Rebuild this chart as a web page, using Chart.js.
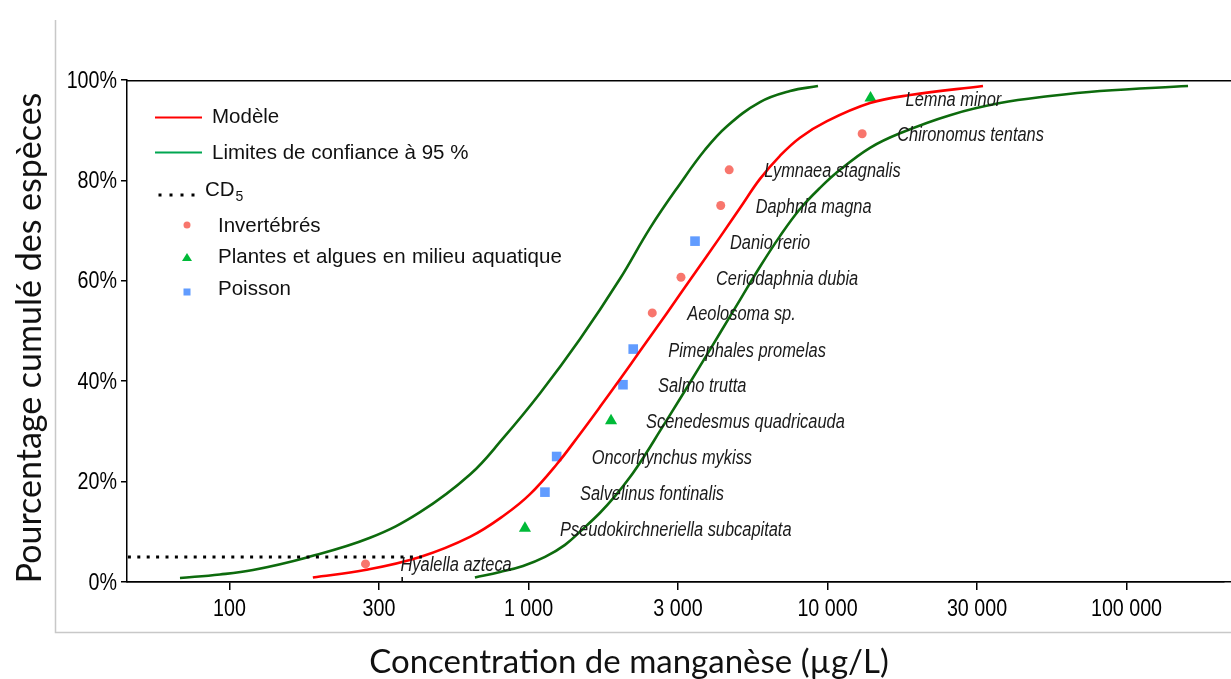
<!DOCTYPE html>
<html><head><meta charset="utf-8">
<script src="https://cdn.jsdelivr.net/npm/chart.js@4.4.1/dist/chart.umd.min.js"></script>
<style>html,body{margin:0;padding:0;background:#fff;overflow:hidden}#wrap{width:1231px;height:679px;position:relative;overflow:hidden}</style>
</head><body><div id="wrap"><canvas id="c" width="1231" height="679"></canvas></div>
<script>
// ---- data ----
const species = ["Hyalella azteca","Pseudokirchneriella subcapitata","Salvelinus fontinalis","Oncorhynchus mykiss","Scenedesmus quadricauda","Salmo trutta","Pimephales promelas","Aeolosoma sp.","Ceriodaphnia dubia","Danio rerio","Daphnia magna","Lymnaea stagnalis","Chironomus tentans","Lemna minor"];
const speciesConc = [285, 973, 1135, 1242, 1888, 2070, 2240, 2594, 3236, 3605, 4394, 4690, 13060, 13930];
const speciesPct = [3.6, 10.7, 17.9, 25.0, 32.1, 39.3, 46.4, 53.6, 60.7, 67.9, 75.0, 82.1, 89.3, 96.4];
const speciesGroup = ["inv","plant","fish","fish","plant","fish","fish","inv","inv","fish","inv","inv","inv","plant"];

const modelConc = [190, 284, 434, 637, 834, 1012, 1245, 1487, 1735, 2023, 2360, 2906, 3549, 4371, 5098, 5946, 6935, 8090, 9961, 13870, 18880, 33120];
const modelPct  = [0.9, 2.4, 5.0, 9.0, 13.4, 17.5, 23.5, 29.5, 34.9, 40.4, 46.0, 53.6, 61.0, 68.7, 74.5, 80.3, 84.9, 88.5, 91.8, 95.4, 97.0, 98.8];

const lowerConc = [68.3, 92.9, 119.8, 178.9, 295.1, 433.7, 637.4, 821.4, 1093, 1487, 2023, 2549, 3211, 3894, 4612, 5946, 7493, 9294];
const lowerPct  = [0.8, 1.5, 2.4, 4.8, 8.8, 13.9, 21.4, 28.6, 37.6, 48.4, 60.4, 70.5, 79.3, 86.1, 90.8, 95.6, 97.8, 98.8];

const upperConc = [662, 803, 959, 1136, 1325, 1510, 1735, 1947, 2186, 2453, 2753, 3212, 3746, 4371, 5098, 5946, 6935, 8090, 9438, 11010, 13870, 17470, 25690, 37750, 55480, 81540, 160600];
const upperPct  = [0.9, 2.0, 3.2, 5.0, 7.4, 10.4, 13.8, 17.1, 20.9, 25.3, 30.1, 36.5, 43.0, 49.6, 56.2, 62.8, 68.9, 74.3, 78.5, 82.1, 86.5, 89.4, 93.0, 95.4, 96.8, 97.8, 98.8];

const cd5Pct = 5;
const cd5EndConc = 440;
const hc5Conc = 378;

const xTickValues = [100, 316.2, 1000, 3162, 10000, 31620, 100000];
const xTickLabels = ["100", "300", "1 000", "3 000", "10 000", "30 000", "100 000"];
const yTickValues = [0, 20, 40, 60, 80, 100];
const yTickLabels = ["0%", "20%", "40%", "60%", "80%", "100%"];
let xMin = 45.4, xMax = 223700;

const legendItems = ["Modèle", "Limites de confiance à 95 %", "CD", "Invertébrés", "Plantes et algues en milieu aquatique", "Poisson"];
const xTitle = "Concentration de manganèse (µg/L)";
const yTitle = "Pourcentage cumulé des espèces";

// ---- styles ----
const RED = "#ff0000", DKGREEN = "#0d6b0d";
const C_INV = "#f8766d", C_PLANT = "#00ba38", C_FISH = "#619cff";
const SANS = '"Liberation Sans",Arial,sans-serif';
const TITLE = 'Lato,"Open Sans",sans-serif';

const pts = g => species.map((s,i)=>i).filter(i=>speciesGroup[i]===g).map(i=>({x:speciesConc[i], y:speciesPct[i]}));
const line = (xs, ys) => xs.map((x,i)=>({x, y:ys[i]}));

function narrowText(ctx, txt, x, y, align, sx) {
  ctx.save();
  ctx.translate(x, y);
  ctx.scale(sx, 1);
  ctx.textAlign = align;
  ctx.fillText(txt, 0, 0);
  ctx.restore();
}

const extras = {
  id: 'extras',
  afterDatasetsDraw(chart) {
    const ctx = chart.ctx, xs = chart.scales.x, ys = chart.scales.y, ca = chart.chartArea;
    ctx.save();
    // species labels
    ctx.font = 'italic 20px ' + SANS;
    ctx.fillStyle = '#1a1a1a';
    ctx.textBaseline = 'middle';
    species.forEach((s,i) => {
      narrowText(ctx, s, xs.getPixelForValue(speciesConc[i]) + 35, ys.getPixelForValue(speciesPct[i]) + 2, 'left', 0.82);
    });
    // top frame line and bottom axis line up to the picture edge
    ctx.strokeStyle = '#000'; ctx.lineWidth = 1.5;
    ctx.beginPath(); ctx.moveTo(ca.left, ca.top + 0.75); ctx.lineTo(1231, ca.top + 0.75); ctx.stroke();
    ctx.beginPath(); ctx.moveTo(ca.left, ca.bottom - 0.25); ctx.lineTo(1231, ca.bottom - 0.25); ctx.stroke();
    // HC5 small tick
    const hx = xs.getPixelForValue(hc5Conc);
    ctx.beginPath(); ctx.moveTo(hx, ca.bottom); ctx.lineTo(hx, ca.bottom - 5); ctx.stroke();
    ctx.restore();
  },
  afterDraw(chart) {
    const ctx = chart.ctx, xs = chart.scales.x, ys = chart.scales.y;
    ctx.save();
    // tick labels (narrow)
    ctx.fillStyle = '#000';
    ctx.font = '24px ' + SANS;
    ctx.textBaseline = 'middle';
    xTickValues.forEach((v,i) => narrowText(ctx, xTickLabels[i], xs.getPixelForValue(v), 609, 'center', 0.82));
    yTickValues.forEach((v,i) => narrowText(ctx, yTickLabels[i], 117, ys.getPixelForValue(v) + 1, 'right', 0.82));
    // gray frame
    ctx.strokeStyle = '#c8c8c8'; ctx.lineWidth = 1.5;
    ctx.beginPath(); ctx.moveTo(55.5, 20); ctx.lineTo(55.5, 632.5); ctx.lineTo(1231, 632.5); ctx.stroke();
    // legend
    ctx.lineWidth = 2;
    ctx.strokeStyle = RED;
    ctx.beginPath(); ctx.moveTo(155, 117.5); ctx.lineTo(202, 117.5); ctx.stroke();
    ctx.strokeStyle = '#00a651';
    ctx.beginPath(); ctx.moveTo(155, 152.5); ctx.lineTo(202, 152.5); ctx.stroke();
    ctx.fillStyle = '#000';
    [160, 171, 182, 193].forEach(x => ctx.fillRect(x - 1.5, 193.5, 3, 3));
    ctx.font = '20.5px ' + SANS; ctx.textBaseline = 'middle'; ctx.textAlign = 'left';
    ctx.fillStyle = '#111';
    ctx.fillText(legendItems[0], 212, 117);
    ctx.fillText(legendItems[1], 212, 153);
    ctx.fillText(legendItems[2], 205, 190);
    const cdw = ctx.measureText(legendItems[2]).width;
    ctx.font = '14px ' + SANS;
    ctx.fillText('5', 205 + cdw + 1, 197);
    ctx.font = '20.5px ' + SANS;
    ctx.fillText(legendItems[3], 218, 226);
    const words = legendItems[4].split(' ');
    let xx = 218;
    words.forEach(w => { ctx.fillText(w, xx, 257); xx += ctx.measureText(w).width + 6.3; });
    ctx.fillText(legendItems[5], 218, 289);
    // legend markers
    ctx.fillStyle = C_INV; ctx.beginPath(); ctx.arc(187, 225, 3.5, 0, Math.PI*2); ctx.fill();
    ctx.fillStyle = C_PLANT; ctx.beginPath(); ctx.moveTo(187, 253); ctx.lineTo(192, 261); ctx.lineTo(182, 261); ctx.closePath(); ctx.fill();
    ctx.fillStyle = C_FISH; ctx.fillRect(183.5, 288.5, 7, 7);
    // axis titles
    ctx.fillStyle = '#111';
    ctx.font = '33px ' + TITLE;
    ctx.textAlign = 'center'; ctx.textBaseline = 'middle';
    ctx.fillText(xTitle, 629, 662);
    ctx.translate(30, 338); ctx.rotate(-Math.PI/2);
    ctx.font = '34px ' + TITLE;
    ctx.fillText(yTitle, 0, 0);
    ctx.restore();
  }
};

const chart = new Chart(document.getElementById('c'), {
  type: 'line',
  data: {
    datasets: [
      { label: 'cd5', data: [{x: 10, y: cd5Pct}, {x: cd5EndConc, y: cd5Pct}], borderColor: '#000', borderWidth: 3, borderDash: [3, 6.4], pointRadius: 0, tension: 0 },
      { label: 'lower', data: line(lowerConc, lowerPct), borderColor: DKGREEN, borderWidth: 2.6, pointRadius: 0, tension: 0.4 },
      { label: 'upper', data: line(upperConc, upperPct), borderColor: DKGREEN, borderWidth: 2.6, pointRadius: 0, tension: 0.4 },
      { label: 'model', data: line(modelConc, modelPct), borderColor: RED, borderWidth: 2.6, pointRadius: 0, tension: 0.4 },
      { type: 'scatter', label: 'inv', data: pts('inv'), pointStyle: 'circle', pointRadius: 4.5, backgroundColor: C_INV, borderWidth: 0 },
      { type: 'scatter', label: 'plant', data: pts('plant'), pointStyle: 'triangle', pointRadius: 7, backgroundColor: C_PLANT, borderWidth: 0 },
      { type: 'scatter', label: 'fish', data: pts('fish'), pointStyle: 'rect', pointRadius: 6.8, backgroundColor: C_FISH, borderWidth: 0 }
    ]
  },
  options: {
    responsive: false, animation: false, devicePixelRatio: 1,
    layout: { padding: { top: 80, left: 0, right: 0, bottom: 0 } },
    plugins: { legend: { display: false }, tooltip: { enabled: false } },
    scales: {
      x: {
        type: 'logarithmic', min: xMin, max: xMax,
        afterBuildTicks: s => { s.ticks = xTickValues.map(v => ({ value: v })); },
        afterFit: s => { s.height = 97; },
        ticks: { display: false },
        grid: { drawOnChartArea: false, drawTicks: true, tickLength: 8, color: '#000', lineWidth: 1.5 },
        border: { display: true, color: '#000', width: 1.5 }
      },
      y: {
        type: 'linear', min: 0, max: 100,
        afterBuildTicks: s => { s.ticks = yTickValues.map(v => ({ value: v })); },
        afterFit: s => { s.width = 127; },
        ticks: { display: false },
        grid: { drawOnChartArea: false, drawTicks: true, tickLength: 6, color: '#000', lineWidth: 1.5 },
        border: { display: true, color: '#000', width: 1.5 }
      }
    }
  },
  plugins: [extras]
});
// keep 100 at x=229.5 with 299 px per decade whatever the final plot width
const ca = chart.chartArea;
chart.options.scales.x.min = Math.pow(10, 2 - (229.5 - ca.left) / 299);
chart.options.scales.x.max = Math.pow(10, 2 + (ca.right - 229.5) / 299);
chart.update('none');
</script>
</body></html>
